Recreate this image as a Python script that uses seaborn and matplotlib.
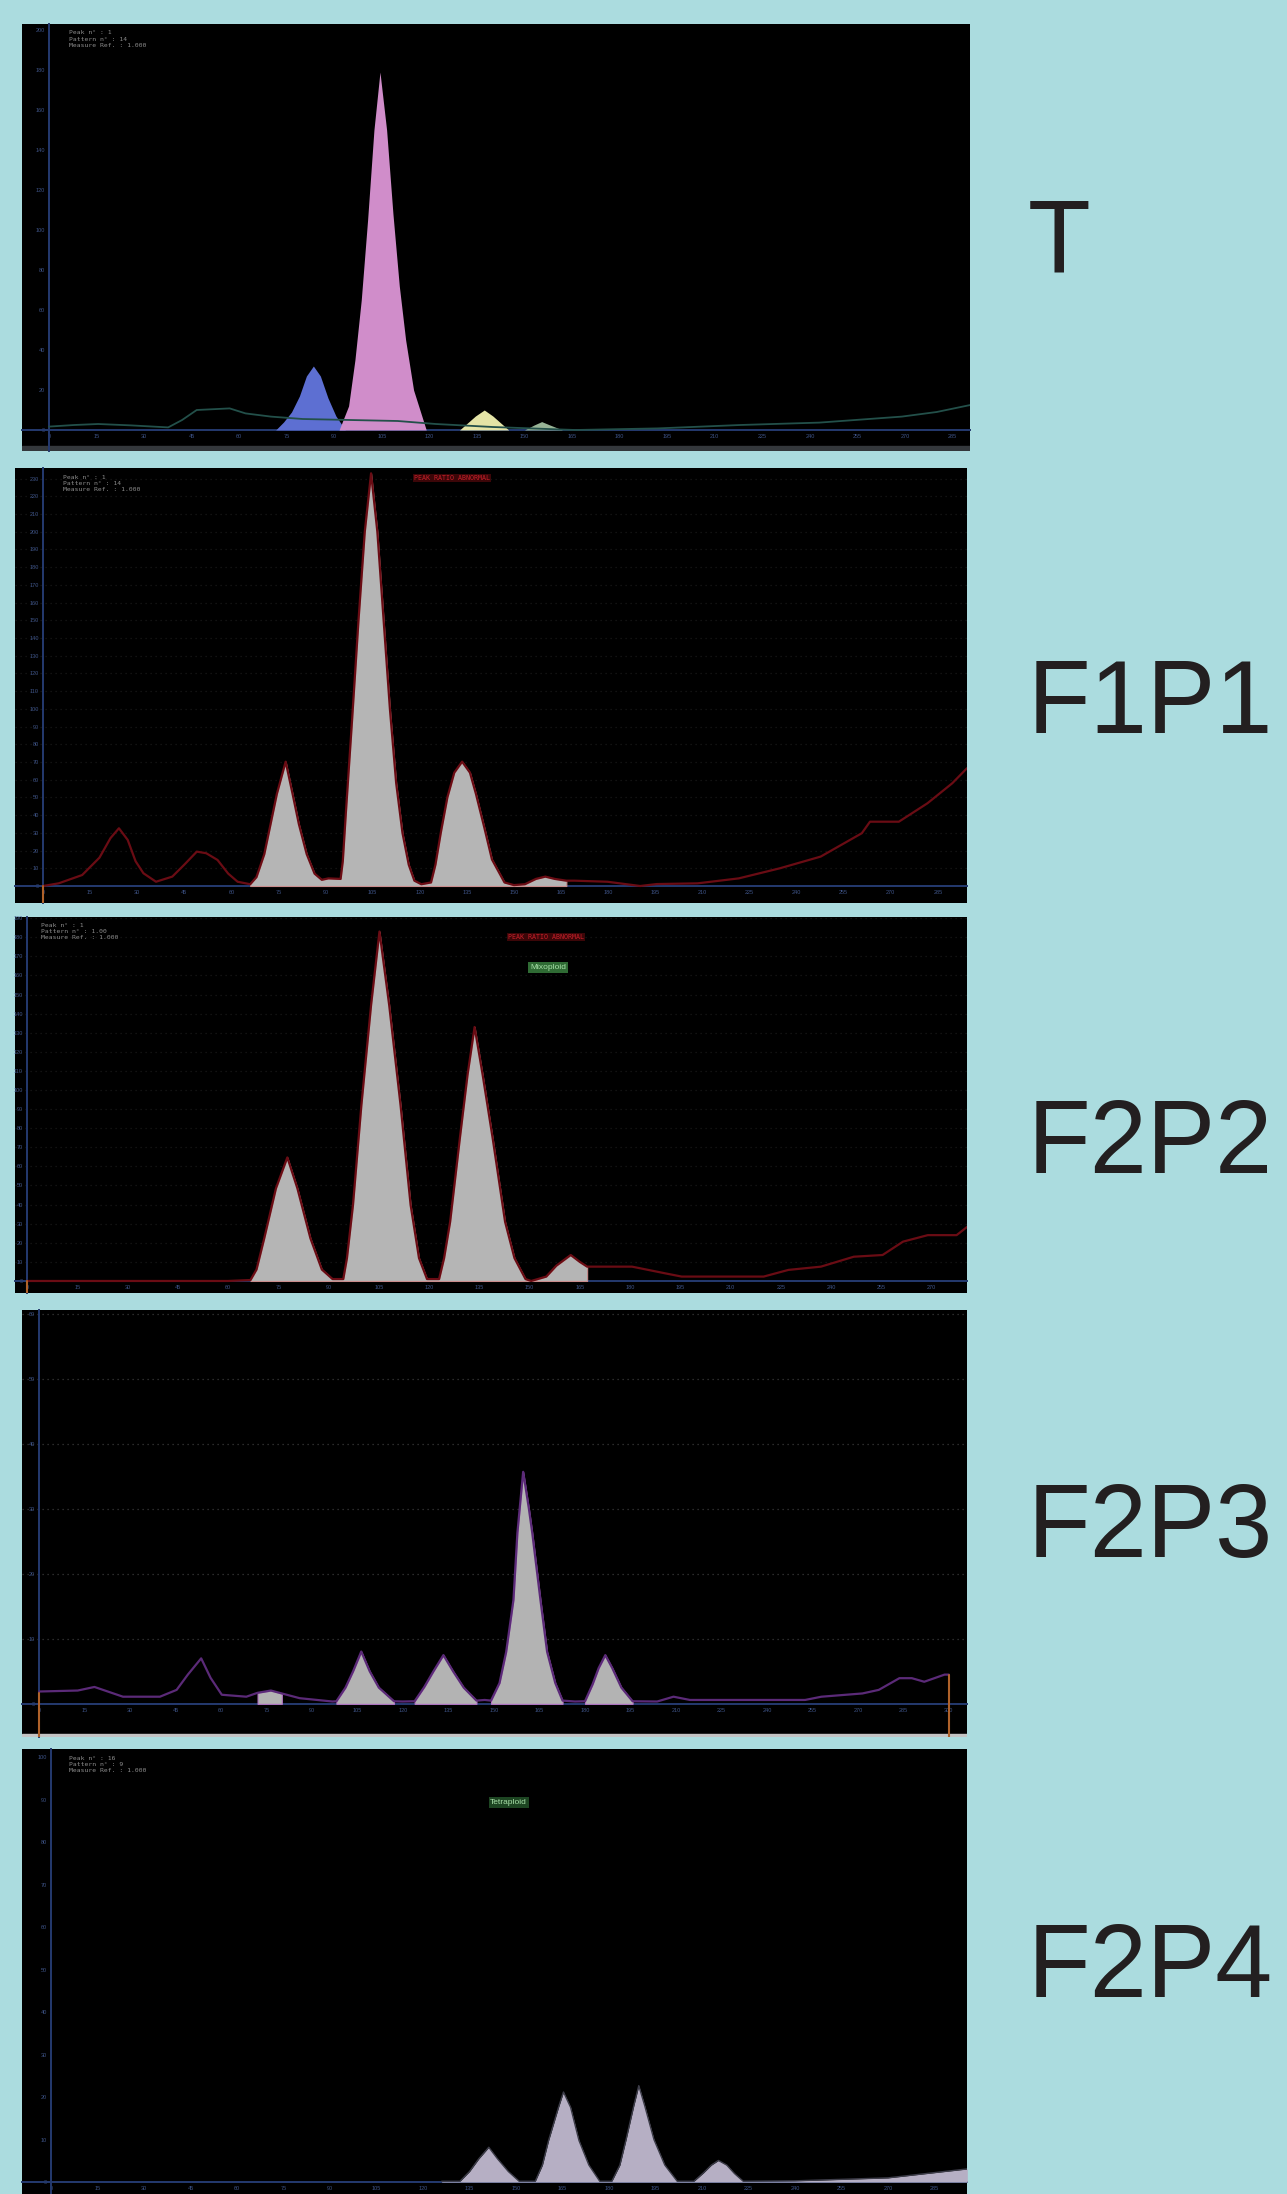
import numpy as np
import pandas as pd
import matplotlib
matplotlib.use("Agg")
import matplotlib.pyplot as plt
import seaborn as sns

# ---- data (channel, count) ----
# T
t_base_ch = [0, 8, 15.5, 26, 37.6, 42, 46.6, 57, 62, 70, 80, 95, 110, 122, 140, 166, 192, 218, 243, 269, 280, 290.6]
t_base_n = [1.7, 2.5, 3, 2.3, 1.3, 5, 10, 10.8, 8.3, 6.7, 5.5, 5, 4.5, 3, 1.5, 0, 0.8, 2.5, 3.7, 6.7, 9, 12.5]
t_blue_ch = [71.5, 74, 76.5, 79, 81.2, 83.4, 85.6, 88, 90.5, 93.5]
t_blue_n = [0, 4, 9, 17, 27, 32, 27, 16, 7, 0]
t_pink_ch = [91.5, 94.5, 96.5, 98.5, 100.5, 102.5, 104.4, 106.5, 108.5, 110.5, 112.5, 115, 119]
t_pink_n = [0, 12, 35, 65, 105, 150, 179, 150, 108, 72, 45, 20, 0]
t_yellow_ch = [129.5, 132, 134.5, 137.3, 140, 142.5, 145]
t_yellow_n = [0, 3.5, 7, 10, 7, 3.5, 0]
t_green_ch = [150, 153, 155.4, 158, 162]
t_green_n = [0, 2.5, 4.2, 2.5, 0]

# F1P1
f1p1_ch = [0, 5, 12.5, 18, 21.5, 24.2, 27, 29.5, 32, 36, 41.2, 45, 49, 52, 55.6, 59, 62, 66,
           68, 70.5, 72.5, 74.5, 77.3, 79.5, 81.5, 84, 86.5, 88.8, 90.9,
           94.8, 95.5, 96.5, 98.5, 100.5, 102.5, 104.5, 106.5, 108.5, 110.5, 112.5, 114.5, 116.5, 118.3, 120.5,
           123.6, 125, 126.7, 128.8, 131, 133.5, 136, 137.9, 140.5, 143, 147, 150,
           153.5, 157, 160, 163, 166.7, 169.3, 179.8, 190.2, 195.5, 208.5, 221.6, 234.7,
           247.7, 260.8, 263.4, 272.6, 281.7, 289.6, 294.3]
f1p1_n = [0, 1.5, 6.2, 16, 27, 32.6, 26, 14, 7.2, 2.4, 5.3, 12, 19.4, 18.5, 14.7, 7, 2.4, 1,
          5, 18, 35, 52, 70.2, 52, 35, 18, 7, 3.5, 4.3,
          4, 14, 42, 95, 150, 200, 233, 200, 150, 100, 58, 30, 12, 3, 1,
          2, 12, 30, 50, 64, 70.2, 64, 52, 33.5, 15, 2, 0.5,
          1, 4, 5.3, 4, 3, 3, 2.4, 0, 1.1, 1.5, 4.3, 10,
          16.6, 29.8, 36.3, 36.3, 46.7, 58, 66.5]

# F2P2
f2p2_ch = [0, 60, 66.7, 68.5, 70.8, 74.3, 77.7, 80.7, 84.6, 88, 91.2,
           94.4, 95.5, 97.3, 99.8, 102.7, 105.2, 108.1, 111.5, 114.5, 117, 119.4,
           123, 124.5, 126.3, 129.2, 131.5, 133.6, 136, 139, 142.7, 145.5, 148.8,
           150.5, 155, 158, 162.3, 165, 167.2, 180.6, 190.5, 195.4, 219.9, 227.3, 237,
           246.8, 255.4, 261.5, 268.9, 277.5, 280.7]
f2p2_n = [0, 0, 0.5, 6, 22.3, 48.5, 64.7, 48.5, 22.3, 6, 1,
          1, 12, 39.8, 92, 144.5, 183, 144.5, 92, 39.8, 12, 1,
          1, 12, 31, 74.7, 108, 133, 108, 74.7, 31, 12, 1,
          0, 2.3, 8, 13.6, 10, 7.5, 7.5, 4, 2.3, 2.3, 5.8, 7.5,
          12.7, 13.6, 20.6, 24, 24, 28.4]

# F2P3
f2p3_ch = [0, 12.7, 18.2, 27.6, 39.8, 45.3, 49, 53.4, 56.5, 60.2, 68.3, 72, 76.4, 80, 85.9, 96.7,
           98, 101, 103.5, 106.2, 109, 112, 117, 119.8,
           123.8, 127, 130, 133.3, 136.5, 140, 144.2, 146.9,
           149, 151.8, 154, 156.4, 157.7, 159.6, 161.5, 162.6, 165.3, 167.5, 170.2, 172.6, 176.7,
           180, 182.5, 184.5, 186.7, 189, 192, 195.7,
           203.8, 209.2, 214.6, 252.6, 258, 271.5, 276.9, 283.7, 287.8, 291.9, 298.6, 300]
f2p3_n = [1.9, 2.05, 2.6, 1.1, 1.1, 2.15, 4.5, 7.0, 4, 1.4, 1.1, 1.7, 2.05, 1.6, 0.87, 0.36,
          0.4, 2.5, 5, 8.05, 5, 2.5, 0.4, 0.36,
          0.4, 2.6, 5, 7.5, 5, 2.5, 0.5, 0.6,
          0.5, 3.2, 8, 16, 26.3, 35.7, 30, 26.3, 16, 8, 3.2, 0.5, 0.36,
          0.4, 3, 5.5, 7.5, 5.5, 2.5, 0.4,
          0.36, 1.1, 0.6, 0.6, 1.1, 1.6, 2.15, 3.95, 3.95, 3.4, 4.5, 4.5]

# F2P4
f2p4_ch = [126, 131.9, 135, 138, 141.2, 144, 147.5, 151,
           156.2, 158.5, 160.5, 163.7, 165.3, 167.6, 170.3, 173.5, 177,
           180.9, 183.5, 185.5, 188, 189.6, 191.5, 194.5, 198, 202,
           207.4, 210.5, 213, 215.3, 218, 220.5, 223.3, 240, 270, 295.6]
f2p4_n = [0.2, 0.2, 2.5, 5.5, 8.2, 5.5, 2.5, 0.2,
          0.2, 4, 9.8, 17.6, 21.2, 17.6, 9.8, 4, 0.2,
          0.2, 4, 10, 18, 22.7, 18, 10, 4, 0.2,
          0.2, 2.2, 4, 5.1, 4, 2, 0.2, 0.3, 1, 3.1]

labels = ["T", "F1P1", "F2P2", "F2P3", "F2P4"]
info_lines = [
    "Peak n° : 1\nPattern n° : 14\nMeasure Ref. : 1.000",
    "Peak n° : 1\nPattern n° : 14\nMeasure Ref. : 1.000",
    "Peak n° : 1\nPattern n° : 1.00\nMeasure Ref. : 1.000",
    None,
    "Peak n° : 16\nPattern n° : 9\nMeasure Ref. : 1.000",
]

W, H = 1287, 2194
BG = "#abdcdf"
AXC = "#243a70"
TICKC = "#3e5488"

sns.set_style("dark")
plt.rcParams["font.family"] = ["Liberation Sans", "DejaVu Sans"]

fig = plt.figure(figsize=(W / 100, H / 100), dpi=100, facecolor=BG)


def panel(rect, xlim, ylim, ystep, xmax, grid=None):
    x0, y0, x1, y1 = rect
    ax = fig.add_axes([x0 / W, 1 - y1 / H, (x1 - x0) / W, (y1 - y0) / H])
    ax.set_facecolor("black")
    ax.set_xlim(xlim)
    ax.set_ylim(ylim)
    for s in ["top", "right"]:
        ax.spines[s].set_visible(False)
    ax.spines["left"].set_position(("data", 0))
    ax.spines["bottom"].set_position(("data", 0))
    for s in ["left", "bottom"]:
        ax.spines[s].set_color(AXC)
        ax.spines[s].set_linewidth(1.4)
    ax.set_xticks(np.arange(0, xmax + 1, 15))
    ax.set_yticks(np.arange(0, ylim[1], ystep))
    ax.tick_params(colors=AXC, labelcolor=TICKC, labelsize=4, length=3, width=1,
                   direction="inout", pad=1.5)
    ax.grid(False)
    if grid:
        for yv in np.arange(ystep, ylim[1], ystep):
            ax.axhline(yv, color=grid, ls=(0, (1, 3)), lw=0.9, zorder=0.5)
    return ax


def curve(ax, ch, n, color, lw):
    df = pd.DataFrame({"ch": ch, "n": n})
    sns.lineplot(data=df, x="ch", y="n", color=color, lw=lw, ax=ax,
                 estimator=None, sort=False, zorder=4)
    ax.set_xlabel("")
    ax.set_ylabel("")


def gated_fill(ax, ch, n, lo, hi, color, edge):
    ch = np.array(ch)
    n = np.array(n)
    m = (ch >= lo) & (ch <= hi)
    ax.fill_between(ch[m], 0, n[m], color=color, ec=edge, lw=0.8, zorder=3)


def info(ax, txt, x=0.05):
    ax.text(x, 0.985, txt, transform=ax.transAxes, fontsize=4.6, color="#8d8d8d",
            va="top", ha="left", family="DejaVu Sans Mono", linespacing=1.35)


# ---- T ----
ax = panel((22, 24, 970, 451), (-8.5, 290.5), (-10.5, 203), 20, 285)
ax.axhspan(-10.5, -7.8, color="#34383c", zorder=1)
curve(ax, t_base_ch, t_base_n, "#23504a", 1.3)
for c, nn, col in [(t_blue_ch, t_blue_n, "#5d6fd2"), (t_pink_ch, t_pink_n, "#d08dca"),
                   (t_yellow_ch, t_yellow_n, "#e4e4a6"), (t_green_ch, t_green_n, "#98b496")]:
    ax.fill_between(c, 0, nn, color=col, lw=0, zorder=3)
info(ax, info_lines[0])

# ---- F1P1 ----
ax = panel((15, 468, 967, 903), (-8.9, 294.3), (-9.6, 236), 10, 285, grid="#181818")
ax.plot([0, 0], [-9.6, 0], color="#b0622a", lw=1.5, zorder=5)
gated_fill(ax, f1p1_ch, f1p1_n, 66, 167, "#b5b5b5", "#c98c8c")
curve(ax, f1p1_ch, f1p1_n, "#6a0c14", 1.6)
info(ax, info_lines[1])
ax.text(0.459, 0.976, "PEAK RATIO ABNORMAL", transform=ax.transAxes, fontsize=4.8,
        color="#c8202a", va="center", ha="center", family="DejaVu Sans Mono",
        bbox=dict(boxstyle="square,pad=0.15", fc="#3c0608", ec="none"))

# ---- F2P2 ----
ax = panel((15, 917, 967, 1293), (-3.6, 280.6), (-6.3, 190.6), 10, 270, grid="#181818")
ax.plot([0, 0], [-6.3, 0], color="#b0622a", lw=1.5, zorder=5)
gated_fill(ax, f2p2_ch, f2p2_n, 66, 167.5, "#b5b5b5", "#c98c8c")
curve(ax, f2p2_ch, f2p2_n, "#6a0c14", 1.6)
info(ax, info_lines[2], x=0.027)
ax.text(0.558, 0.947, "PEAK RATIO ABNORMAL", transform=ax.transAxes, fontsize=4.8,
        color="#c8202a", va="center", ha="center", family="DejaVu Sans Mono",
        bbox=dict(boxstyle="square,pad=0.15", fc="#3c0608", ec="none"))
ax.text(0.56, 0.866, "Mixoploid", transform=ax.transAxes, fontsize=6,
        color="#a8e0a8", va="center", ha="center",
        bbox=dict(boxstyle="square,pad=0.2", fc="#2f6b34", ec="none"))

# ---- F2P3 ----
ax = panel((22, 1310, 967, 1737), (-5.7, 306), (-5.1, 60.6), 10, 300, grid="#3a3a3a")
ax.axhspan(-5.1, -4.6, color="#c4c4c4", zorder=1)
ax.plot([0, 0], [-5.1, 1.7], color="#b0622a", lw=1.5, zorder=5)
ax.plot([300, 300], [-5.1, 4.5], color="#b0622a", lw=1.5, zorder=5)
for lo, hi in [(70, 84), (97.5, 118), (123, 145), (148.5, 173), (179.5, 196)]:
    gated_fill(ax, f2p3_ch, f2p3_n, lo, hi, "#b3b3b3", "#b474c4")
curve(ax, f2p3_ch, f2p3_n, "#5b2a78", 1.6)

# ---- F2P4 ----
ax = panel((22, 1749, 967, 2194), (-9.4, 295.5), (-2.8, 101.9), 10, 285)
ax.fill_between(f2p4_ch, 0, f2p4_n, color="#b6afc4", lw=0, zorder=3)
curve(ax, f2p4_ch, f2p4_n, "#3c3c48", 1.0)
info(ax, info_lines[4])
ax.text(0.515, 0.88, "Tetraploid", transform=ax.transAxes, fontsize=6,
        color="#a8e0a8", va="center", ha="center",
        bbox=dict(boxstyle="square,pad=0.2", fc="#1d4522", ec="none"))

# ---- row labels ----
for lab, yb in zip(labels, [273, 733, 1173, 1557, 1997]):
    fig.text(1028 / W, 1 - yb / H, lab, fontsize=74, color="#231f20",
             ha="left", va="baseline", family=["Liberation Sans", "DejaVu Sans"])

fig.savefig("out.png", dpi=100, facecolor=BG)
